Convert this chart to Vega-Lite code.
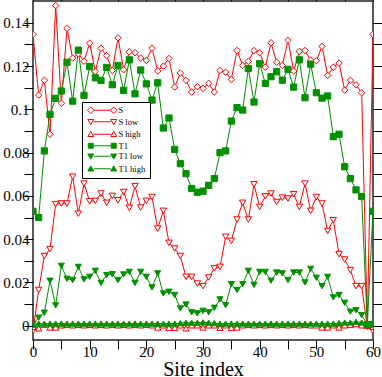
{
  "$schema": "https://vega.github.io/schema/vega-lite/v6.json",
  "width": 340,
  "height": 339,
  "autosize": {"type": "none"},
  "padding": {"left": 33, "top": 1, "right": 9, "bottom": 37},
  "background": "white",
  "config": {"view": {"stroke": "#222", "strokeWidth": 1.5}},
  "data": {"values": [
    {"i":0,"S":0.1346,"S low":-0.0025,"S high":-0.0005,"T1":0.0529,"T1 low":0.0008,"T1 high":0.0005},
    {"i":1,"S":0.1066,"S low":0.0165,"S high":-0.0012,"T1":0.05,"T1 low":0.0037,"T1 high":0.001},
    {"i":2,"S":0.1135,"S low":0.0322,"S high":0.0005,"T1":0.0808,"T1 low":0.006,"T1 high":0.001},
    {"i":3,"S":0.0885,"S low":0.0354,"S high":-0.0008,"T1":0.0977,"T1 low":0.0208,"T1 high":0.001},
    {"i":4,"S":0.148,"S low":0.0562,"S high":-0.0008,"T1":0.1051,"T1 low":0.0094,"T1 high":0.001},
    {"i":5,"S":0.1028,"S low":0.0565,"S high":0.0002,"T1":0.1085,"T1 low":0.0277,"T1 high":0.001},
    {"i":6,"S":0.1374,"S low":0.0565,"S high":0.0004,"T1":0.1218,"T1 low":0.0217,"T1 high":0.001},
    {"i":7,"S":0.1237,"S low":0.0689,"S high":0.0002,"T1":0.1038,"T1 low":0.0211,"T1 high":0.001},
    {"i":8,"S":0.1257,"S low":0.0518,"S high":0.0004,"T1":0.1274,"T1 low":0.0272,"T1 high":0.001},
    {"i":9,"S":0.1223,"S low":0.0657,"S high":0.0002,"T1":0.1065,"T1 low":0.0214,"T1 high":0.001},
    {"i":10,"S":0.1306,"S low":0.0575,"S high":0.0004,"T1":0.1198,"T1 low":0.0226,"T1 high":0.001},
    {"i":11,"S":0.1175,"S low":0.0577,"S high":0.0002,"T1":0.1146,"T1 low":0.0254,"T1 high":0.001},
    {"i":12,"S":0.1282,"S low":0.0611,"S high":0.0004,"T1":0.1134,"T1 low":0.0198,"T1 high":0.001},
    {"i":13,"S":0.1249,"S low":0.0568,"S high":0.0002,"T1":0.1194,"T1 low":0.0234,"T1 high":0.001},
    {"i":14,"S":0.118,"S low":0.06,"S high":0.0004,"T1":0.1114,"T1 low":0.0238,"T1 high":0.001},
    {"i":15,"S":0.1331,"S low":0.058,"S high":0.0002,"T1":0.1203,"T1 low":0.0211,"T1 high":0.001},
    {"i":16,"S":0.1183,"S low":0.0618,"S high":0.0004,"T1":0.1088,"T1 low":0.0237,"T1 high":0.001},
    {"i":17,"S":0.1266,"S low":0.0545,"S high":0.0002,"T1":0.1229,"T1 low":0.0249,"T1 high":0.001},
    {"i":18,"S":0.1262,"S low":0.0645,"S high":0.0004,"T1":0.1072,"T1 low":0.0198,"T1 high":0.001},
    {"i":19,"S":0.1237,"S low":0.0546,"S high":0.0002,"T1":0.1182,"T1 low":0.0249,"T1 high":0.001},
    {"i":20,"S":0.1226,"S low":0.0577,"S high":0.0004,"T1":0.1118,"T1 low":0.0226,"T1 high":0.001},
    {"i":21,"S":0.1283,"S low":0.0595,"S high":0.0002,"T1":0.1043,"T1 low":0.0177,"T1 high":0.001},
    {"i":22,"S":0.1178,"S low":0.0449,"S high":-0.0008,"T1":0.1123,"T1 low":0.0242,"T1 high":0.001},
    {"i":23,"S":0.12,"S low":0.0531,"S high":0.0002,"T1":0.0914,"T1 low":0.0149,"T1 high":0.001},
    {"i":24,"S":0.1235,"S low":0.0383,"S high":-0.001,"T1":0.096,"T1 low":0.0157,"T1 high":0.001},
    {"i":25,"S":0.1103,"S low":0.0357,"S high":-0.001,"T1":0.0815,"T1 low":0.0142,"T1 high":0.001},
    {"i":26,"S":0.1168,"S low":0.0322,"S high":0.0002,"T1":0.0749,"T1 low":0.008,"T1 high":0.0012},
    {"i":27,"S":0.1134,"S low":0.0226,"S high":-0.0012,"T1":0.0703,"T1 low":0.0098,"T1 high":0.0014},
    {"i":28,"S":0.108,"S low":0.0226,"S high":0.0002,"T1":0.0634,"T1 low":0.0062,"T1 high":0.0014},
    {"i":29,"S":0.1105,"S low":0.0195,"S high":0.0002,"T1":0.0617,"T1 low":0.0057,"T1 high":0.0014},
    {"i":30,"S":0.1097,"S low":0.0183,"S high":-0.0008,"T1":0.0622,"T1 low":0.0069,"T1 high":0.0016},
    {"i":31,"S":0.112,"S low":0.0223,"S high":0.0002,"T1":0.0649,"T1 low":0.0062,"T1 high":0.0014},
    {"i":32,"S":0.108,"S low":0.0265,"S high":0.0002,"T1":0.068,"T1 low":0.0083,"T1 high":0.0012},
    {"i":33,"S":0.118,"S low":0.0272,"S high":-0.001,"T1":0.08,"T1 low":0.0122,"T1 high":0.001},
    {"i":34,"S":0.1172,"S low":0.0411,"S high":0.0002,"T1":0.0808,"T1 low":0.0095,"T1 high":0.001},
    {"i":35,"S":0.1138,"S low":0.0392,"S high":-0.001,"T1":0.0946,"T1 low":0.0192,"T1 high":0.001},
    {"i":36,"S":0.1272,"S low":0.0491,"S high":-0.0008,"T1":0.1008,"T1 low":0.0165,"T1 high":0.001},
    {"i":37,"S":0.1203,"S low":0.0568,"S high":0.0002,"T1":0.0997,"T1 low":0.0192,"T1 high":0.001},
    {"i":38,"S":0.1222,"S low":0.0491,"S high":0.0004,"T1":0.1189,"T1 low":0.0254,"T1 high":0.001},
    {"i":39,"S":0.1272,"S low":0.0654,"S high":0.0002,"T1":0.1034,"T1 low":0.0189,"T1 high":0.001},
    {"i":40,"S":0.1262,"S low":0.0549,"S high":0.0004,"T1":0.1211,"T1 low":0.0249,"T1 high":0.001},
    {"i":41,"S":0.1195,"S low":0.0598,"S high":0.0002,"T1":0.112,"T1 low":0.0249,"T1 high":0.001},
    {"i":42,"S":0.1308,"S low":0.0611,"S high":0.0004,"T1":0.1151,"T1 low":0.0208,"T1 high":0.001},
    {"i":43,"S":0.1218,"S low":0.0572,"S high":0.0002,"T1":0.1174,"T1 low":0.0246,"T1 high":0.001},
    {"i":44,"S":0.1203,"S low":0.0592,"S high":0.0004,"T1":0.1135,"T1 low":0.0242,"T1 high":0.001},
    {"i":45,"S":0.132,"S low":0.0588,"S high":0.0002,"T1":0.1185,"T1 low":0.0211,"T1 high":0.001},
    {"i":46,"S":0.1177,"S low":0.0608,"S high":0.0004,"T1":0.1103,"T1 low":0.0246,"T1 high":0.001},
    {"i":47,"S":0.1268,"S low":0.0549,"S high":0.0002,"T1":0.1229,"T1 low":0.0246,"T1 high":0.001},
    {"i":48,"S":0.1272,"S low":0.0657,"S high":0.0004,"T1":0.1054,"T1 low":0.02,"T1 high":0.001},
    {"i":49,"S":0.1228,"S low":0.0531,"S high":0.0002,"T1":0.1209,"T1 low":0.0263,"T1 high":0.001},
    {"i":50,"S":0.1225,"S low":0.0595,"S high":0.0002,"T1":0.1077,"T1 low":0.0222,"T1 high":0.001},
    {"i":51,"S":0.1291,"S low":0.0565,"S high":-0.0008,"T1":0.1052,"T1 low":0.0183,"T1 high":0.001},
    {"i":52,"S":0.1157,"S low":0.0438,"S high":-0.0008,"T1":0.1062,"T1 low":0.0226,"T1 high":0.001},
    {"i":53,"S":0.1195,"S low":0.0488,"S high":0.0002,"T1":0.0874,"T1 low":0.0131,"T1 high":0.001},
    {"i":54,"S":0.1214,"S low":0.0331,"S high":-0.0008,"T1":0.0885,"T1 low":0.0142,"T1 high":0.0012},
    {"i":55,"S":0.1089,"S low":0.0306,"S high":0.0002,"T1":0.0735,"T1 low":0.0106,"T1 high":0.0015},
    {"i":56,"S":0.1135,"S low":0.0257,"S high":0.0004,"T1":0.068,"T1 low":0.0065,"T1 high":0.0015},
    {"i":57,"S":0.1114,"S low":0.0183,"S high":0.0008,"T1":0.0628,"T1 low":0.0072,"T1 high":0.0018},
    {"i":58,"S":0.1077,"S low":0.0183,"S high":0.0002,"T1":0.0597,"T1 low":0.0049,"T1 high":0.0015},
    {"i":59,"S":0.0,"S low":-0.0005,"S high":0.0,"T1":0.0005,"T1 low":0.0006,"T1 high":0.0005},
    {"i":60,"S":0.1346,"S low":-0.0025,"S high":-0.0005,"T1":0.0529,"T1 low":0.0008,"T1 high":0.0005}
  ]},
  "transform": [{"fold": ["S", "S low", "S high", "T1", "T1 low", "T1 high"], "as": ["series", "v"]}],
  "resolve": {
    "axis": {"x": "independent", "y": "independent"},
    "scale": {"color": "independent", "fill": "independent", "shape": "independent", "size": "independent"}
  },
  "layer": [
    {
      "mark": {"type": "line", "strokeWidth": 1, "clip": true},
      "encoding": {
        "x": {"field": "i", "type": "quantitative", "scale": {"domain": [0, 60], "nice": false, "zero": false},
          "axis": {"orient": "bottom", "values": [0,5,10,15,20,25,30,35,40,45,50,55,60],
            "labelExpr": "datum.value % 10 === 0 ? datum.label : ''",
            "tickSize": 9, "labelPadding": -5, "domain": false, "grid": false,
            "labelFlush": false, "labelOverlap": false,
            "labelFont": "Liberation Serif", "labelFontSize": 15, "labelColor": "black",
            "tickColor": "black", "tickWidth": 1,
            "title": "Site index", "titleFont": "Liberation Serif", "titleFontSize": 20,
            "titleFontWeight": "normal", "titleColor": "black", "titlePadding": 0,
            "encode": {"ticks": {"y2": {"value": {"expr": "datum.value % 10 === 0 ? -9 : -5"}}}}}},
        "y": {"field": "v", "type": "quantitative", "scale": {"domain": [-0.0066, 0.1501], "nice": false, "zero": false},
          "axis": {"orient": "left", "values": [0,0.01,0.02,0.03,0.04,0.05,0.06,0.07,0.08,0.09,0.1,0.11,0.12,0.13,0.14],
            "format": "~g",
            "labelExpr": "round(datum.value*100) % 2 === 0 ? datum.label : ''",
            "tickSize": 9, "labelPadding": -5, "domain": false, "grid": false,
            "labelFlush": false, "labelOverlap": false,
            "labelFont": "Liberation Serif", "labelFontSize": 15, "labelColor": "black",
            "tickColor": "black", "tickWidth": 1, "title": null,
            "encode": {"ticks": {"x2": {"value": {"expr": "round(datum.value*100) % 2 === 0 ? 9 : 5"}}}}}},
        "color": {"field": "series", "type": "nominal",
          "scale": {"domain": ["S", "S low", "S high", "T1", "T1 low", "T1 high"],
            "range": ["#ff0000", "#ff0000", "#ff0000", "#009000", "#009000", "#009000"]},
          "legend": null}
      }
    },
    {
      "mark": {"type": "point", "filled": false, "strokeWidth": 1, "opacity": 1, "clip": true},
      "encoding": {
        "x": {"field": "i", "type": "quantitative", "scale": {"domain": [0, 60], "nice": false, "zero": false},
          "axis": {"orient": "top", "values": [0,5,10,15,20,25,30,35,40,45,50,55,60],
            "labels": false, "tickSize": 9, "domain": false, "grid": false, "title": null,
            "tickColor": "black", "tickWidth": 1,
            "encode": {"ticks": {"y2": {"value": {"expr": "datum.value % 10 === 0 ? 9 : 5"}}}}}},
        "y": {"field": "v", "type": "quantitative", "scale": {"domain": [-0.0066, 0.1501], "nice": false, "zero": false},
          "axis": {"orient": "right", "values": [0,0.01,0.02,0.03,0.04,0.05,0.06,0.07,0.08,0.09,0.1,0.11,0.12,0.13,0.14],
            "labels": false, "tickSize": 9, "domain": false, "grid": false, "title": null,
            "tickColor": "black", "tickWidth": 1,
            "encode": {"ticks": {"x2": {"value": {"expr": "round(datum.value*100) % 2 === 0 ? -9 : -5"}}}}}},
        "color": {"field": "series", "type": "nominal",
          "scale": {"domain": ["S", "S low", "S high", "T1", "T1 low", "T1 high"],
            "range": ["#ff0000", "#ff0000", "#ff0000", "#009000", "#009000", "#009000"]},
          "legend": null},
        "fill": {"field": "series", "type": "nominal",
          "scale": {"domain": ["S", "S low", "S high", "T1", "T1 low", "T1 high"],
            "range": ["white", "white", "white", "#009000", "#009000", "#009000"]},
          "legend": null},
        "shape": {"field": "series", "type": "nominal",
          "scale": {"domain": ["S", "S low", "S high", "T1", "T1 low", "T1 high"],
            "range": ["diamond", "triangle-down", "triangle-up", "square", "triangle-down", "triangle-up"]},
          "legend": null},
        "size": {"field": "series", "type": "nominal",
          "scale": {"domain": ["S", "S low", "S high", "T1", "T1 low", "T1 high"],
            "range": [42, 36, 36, 25, 36, 36]},
          "legend": null}
      }
    },
    {
      "mark": {"type": "point", "filled": false, "strokeWidth": 1, "opacity": 0},
      "encoding": {
        "x": {"field": "i", "type": "quantitative", "scale": {"domain": [0, 60], "nice": false, "zero": false}, "axis": null},
        "y": {"field": "v", "type": "quantitative", "scale": {"domain": [-0.0066, 0.1501], "nice": false, "zero": false}, "axis": null},
        "color": {"field": "series", "type": "nominal",
          "scale": {"domain": ["S", "S low", "S high", "T1", "T1 low", "T1 high"],
            "range": ["#ff0000", "#ff0000", "#ff0000", "#009000", "#009000", "#009000"]},
          "legend": {"orient": "none", "legendX": 49, "legendY": 101, "title": null,
            "strokeColor": "black", "fillColor": "white", "padding": 4,
            "symbolSize": 36, "symbolStrokeWidth": 1, "symbolOpacity": 1,
            "symbolOffset": 12, "labelOffset": 12, "rowPadding": 1.5,
            "labelFont": "Liberation Serif", "labelFontSize": 8.5, "labelColor": "black"}},
        "fill": {"field": "series", "type": "nominal",
          "scale": {"domain": ["S", "S low", "S high", "T1", "T1 low", "T1 high"],
            "range": ["white", "white", "white", "#009000", "#009000", "#009000"]},
          "legend": {"orient": "none", "legendX": 49, "legendY": 101, "title": null,
            "strokeColor": "black", "fillColor": "white", "padding": 4,
            "symbolSize": 36, "symbolStrokeWidth": 1, "symbolOpacity": 1,
            "symbolOffset": 12, "labelOffset": 12, "rowPadding": 1.5,
            "labelFont": "Liberation Serif", "labelFontSize": 8.5, "labelColor": "black"}},
        "shape": {"field": "series", "type": "nominal",
          "scale": {"domain": ["S", "S low", "S high", "T1", "T1 low", "T1 high"],
            "range": [
              "M-2.73,0H2.73M-4.93,0L-3.83,-1.1L-2.73,0L-3.83,1.1ZM2.73,0L3.83,-1.1L4.93,0L3.83,1.1Z",
              "M-2.83,0H2.83M-4.83,-0.75H-2.83L-3.83,0.95ZM2.83,-0.75H4.83L3.83,0.95Z",
              "M-2.83,0H2.83M-4.83,0.75H-2.83L-3.83,-0.95ZM2.83,0.75H4.83L3.83,-0.95Z",
              "M-3,0H3M-4.66,-0.83H-3V0.83H-4.66ZM3,-0.83H4.66V0.83H3Z",
              "M-2.83,0H2.83M-4.83,-0.75H-2.83L-3.83,0.95ZM2.83,-0.75H4.83L3.83,0.95Z",
              "M-2.83,0H2.83M-4.83,0.75H-2.83L-3.83,-0.95ZM2.83,0.75H4.83L3.83,-0.95Z"
            ]},
          "legend": {"orient": "none", "legendX": 49, "legendY": 101, "title": null,
            "strokeColor": "black", "fillColor": "white", "padding": 4,
            "symbolSize": 36, "symbolStrokeWidth": 1, "symbolOpacity": 1,
            "symbolOffset": 12, "labelOffset": 12, "rowPadding": 1.5,
            "labelFont": "Liberation Serif", "labelFontSize": 8.5, "labelColor": "black"}}
      }
    }
  ]
}
